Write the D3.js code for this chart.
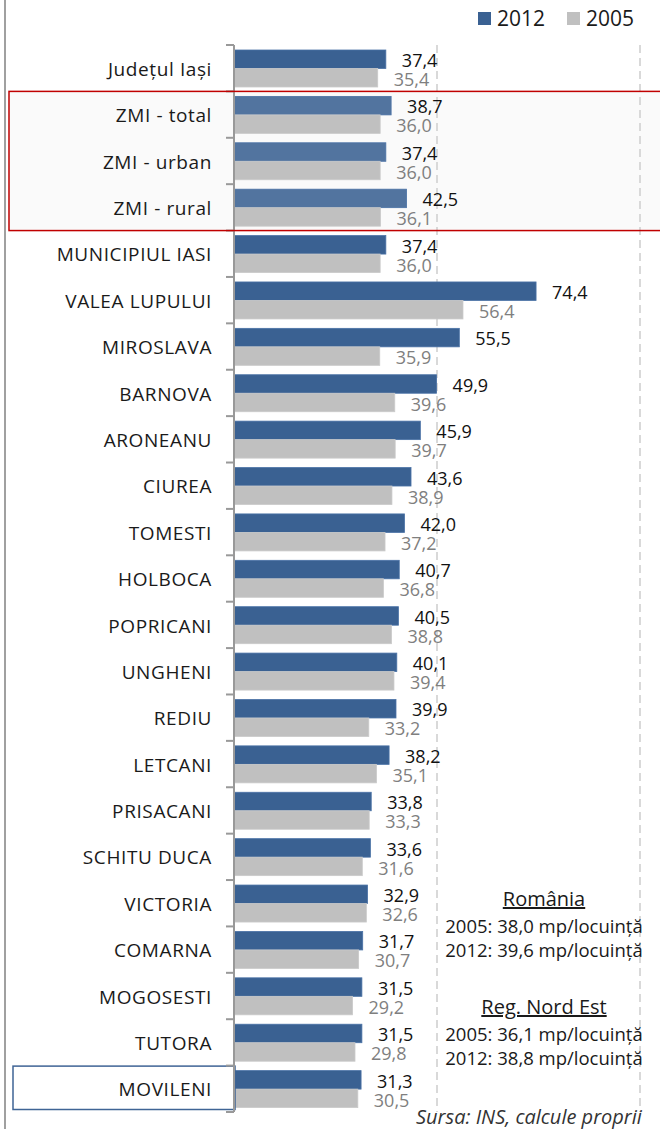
<!doctype html>
<html>
<head>
    <meta charset="UTF-8">
    <title>Suprafata locuibila</title>
    <script src="https://d3js.org/d3.v7.min.js"></script>
    <style>
        body{ margin:0; background:#fff; }
        text{ font-family: "Open Sans", "Noto Sans", sans-serif; }
    </style>
</head>
<body>
    <div id="chart"></div>

    <script>
        // categorii si valori (mp / locuinta)
        var categories = ["Județul Iași", "ZMI - total", "ZMI - urban", "ZMI - rural", "MUNICIPIUL IASI",
            "VALEA LUPULUI", "MIROSLAVA", "BARNOVA", "ARONEANU", "CIUREA", "TOMESTI", "HOLBOCA",
            "POPRICANI", "UNGHENI", "REDIU", "LETCANI", "PRISACANI", "SCHITU DUCA", "VICTORIA",
            "COMARNA", "MOGOSESTI", "TUTORA", "MOVILENI"];
        var val2012 = [37.4, 38.7, 37.4, 42.5, 37.4, 74.4, 55.5, 49.9, 45.9, 43.6, 42.0, 40.7,
            40.5, 40.1, 39.9, 38.2, 33.8, 33.6, 32.9, 31.7, 31.5, 31.5, 31.3];
        var val2005 = [35.4, 36.0, 36.0, 36.1, 36.0, 56.4, 35.9, 39.6, 39.7, 38.9, 37.2, 36.8,
            38.8, 39.4, 33.2, 35.1, 33.3, 31.6, 32.6, 30.7, 29.2, 29.8, 30.5];
        var years = ["2012", "2005"];
        var gridTicks = [50, 100];
        var zmi = ["ZMI - total", "ZMI - urban", "ZMI - rural"];
        var notes = [
            {title: "România", lines: ["2005: 38,0 mp/locuință", "2012: 39,6 mp/locuință"]},
            {title: "Reg. Nord Est", lines: ["2005: 36,1 mp/locuință", "2012: 38,8 mp/locuință"]}
        ];

        var w = 660, h = 1129;
        var fmt = function(v){ return d3.format(".1f")(v).replace(".", ","); };

        var svg = d3.select("#chart").append("svg")
            .attr("width", w).attr("height", h);

        var x = d3.scaleLinear().domain([0, 100]).range([234, 640]);
        var y = d3.scaleBand().domain(categories).range([45, 1112]);
        var yIn = d3.scaleBand().domain(years).range([5, 42]);
        var color = {"2012": "#3a6192", "2005": "#c0c0c0"};

        // chenar stanga
        svg.append("line").attr("x1", 5).attr("x2", 5).attr("y1", 0).attr("y2", h)
            .attr("stroke", "#a0a0a0").attr("stroke-width", 2);

        // fundal ZMI
        var zTop = y(zmi[0]), zBot = y(zmi[zmi.length - 1]) + y.bandwidth();
        svg.append("rect").attr("x", 9).attr("y", zTop).attr("width", w).attr("height", zBot - zTop)
            .attr("fill", "#fafafa");

        // grid
        svg.selectAll("line.grid").data(gridTicks).enter().append("line")
            .attr("class", "grid")
            .attr("x1", function(d){ return x(d); }).attr("x2", function(d){ return x(d); })
            .attr("y1", 45).attr("y2", 1112)
            .attr("stroke", "#d9d9d9").attr("stroke-width", 2)
            .attr("stroke-dasharray", "8,5");

        // bare
        var rows = svg.selectAll("g.row").data(categories).enter().append("g")
            .attr("class", "row")
            .attr("transform", function(d){ return "translate(0," + y(d) + ")"; });

        rows.each(function(c, i){
            var g = d3.select(this);
            var isZ = zmi.indexOf(c) >= 0;
            var vals = {"2012": val2012[i], "2005": val2005[i]};
            years.forEach(function(yr){
                g.append("rect")
                    .attr("x", x(0))
                    .attr("y", yIn(yr))
                    .attr("width", x(vals[yr]) - x(0))
                    .attr("height", yIn.bandwidth())
                    .attr("fill", yr == "2012" ? (isZ ? "#52749f" : color["2012"]) : color["2005"])
                    .attr("stroke", yr == "2012" ? "#4a72a6" : "#cacaca")
                    .attr("stroke-width", 0.8);
            });
            g.append("text")
                .attr("x", x(vals["2012"]) + 16).attr("y", 22)
                .attr("font-size", 18).attr("fill", "#111")
                .text(fmt(vals["2012"]));
            g.append("text")
                .attr("x", x(vals["2005"]) + 16).attr("y", 41)
                .attr("font-size", 18).attr("fill", "#7f7f7f")
                .text(fmt(vals["2005"]));
        });

        // caseta MOVILENI
        var last = categories[categories.length - 1];
        svg.append("rect").attr("x", 13).attr("y", y(last) + 0.5)
            .attr("width", 222).attr("height", y.bandwidth() - 3)
            .attr("fill", "#fff").attr("stroke", "#3f6495").attr("stroke-width", 1.5);

        // axa
        var axis = svg.append("g").attr("transform", "translate(" + x(0) + ",0)")
            .call(d3.axisLeft(y).tickSize(0).tickPadding(22));
        axis.select(".domain").remove();
        axis.selectAll("text").attr("font-size", 19).attr("fill", "#1a1a1a")
            .attr("letter-spacing", 0.6)
            .attr("font-family", "'Open Sans', sans-serif").attr("dy", "0.4em");
        var bounds = categories.map(function(c){ return y(c); }).concat([y.range()[1]]);
        axis.selectAll("line.sep").data(bounds).enter().append("line")
            .attr("class", "sep")
            .attr("x1", -8).attr("x2", 0)
            .attr("y1", function(d){ return d; }).attr("y2", function(d){ return d; })
            .attr("stroke", "#999").attr("stroke-width", 2);
        axis.append("line").attr("x1", 0).attr("x2", 0).attr("y1", 45).attr("y2", 1112)
            .attr("stroke", "#999").attr("stroke-width", 2);

        // chenar rosu ZMI
        svg.append("rect").attr("x", 9).attr("y", zTop).attr("width", w).attr("height", zBot - zTop)
            .attr("fill", "none").attr("stroke", "#c00000").attr("stroke-width", 1.5);

        // legenda
        var leg = svg.append("g");
        var lx = [478, 567];
        years.forEach(function(yr, i){
            leg.append("rect").attr("x", lx[i]).attr("y", 12).attr("width", 13).attr("height", 13)
                .attr("fill", color[yr]);
            leg.append("text").attr("x", lx[i] + 19).attr("y", 26).attr("font-size", 21)
                .attr("fill", "#1a1a1a").text(yr);
        });

        // note
        var ny = [906, 1014];
        notes.forEach(function(n, i){
            svg.append("text").attr("x", 544).attr("y", ny[i]).attr("text-anchor", "middle")
                .attr("font-size", 20).attr("fill", "#1a1a1a")
                .attr("text-decoration", "underline").text(n.title);
            n.lines.forEach(function(l, j){
                svg.append("text").attr("x", 544).attr("y", ny[i] + 27 + j * 24)
                    .attr("text-anchor", "middle").attr("font-size", 18.5).attr("fill", "#1a1a1a")
                    .text(l);
            });
        });

        svg.append("text").attr("x", 416).attr("y", 1124).attr("font-size", 20)
            .attr("font-style", "italic").attr("fill", "#333")
            .text("Sursa: INS, calcule proprii");
    </script>
</body>
</html>
